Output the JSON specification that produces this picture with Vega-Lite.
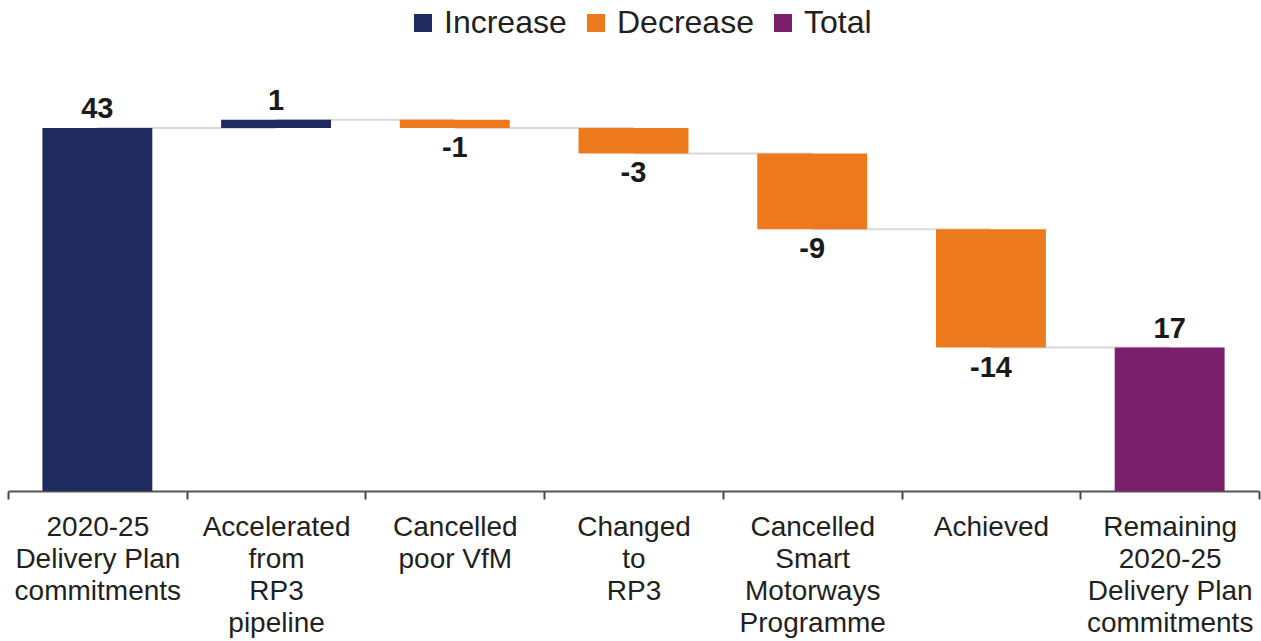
{
  "$schema": "https://vega.github.io/schema/vega-lite/v6.json",
  "width": 1251,
  "height": 422,
  "autosize": {"type": "none"},
  "padding": {"left": 8, "top": 69, "right": 2, "bottom": 150},
  "background": "white",
  "config": {
    "view": {"stroke": null},
    "font": "Liberation Sans"
  },
  "datasets": {
    "bars": [
      {"cat": "2020-25|Delivery Plan|commitments", "start": 0, "end": 43, "label": "43", "type": "Increase"},
      {"cat": "Accelerated|from|RP3|pipeline", "start": 43, "end": 44, "label": "1", "type": "Increase"},
      {"cat": "Cancelled|poor VfM", "start": 44, "end": 43, "label": "-1", "type": "Decrease"},
      {"cat": "Changed|to|RP3", "start": 43, "end": 40, "label": "-3", "type": "Decrease"},
      {"cat": "Cancelled|Smart|Motorways|Programme", "start": 40, "end": 31, "label": "-9", "type": "Decrease"},
      {"cat": "Achieved", "start": 31, "end": 17, "label": "-14", "type": "Decrease"},
      {"cat": "Remaining|2020-25|Delivery Plan|commitments", "start": 0, "end": 17, "label": "17", "type": "Total"}
    ],
    "connectors": [
      {"pair": 1, "cat": "2020-25|Delivery Plan|commitments", "level": 43},
      {"pair": 1, "cat": "Accelerated|from|RP3|pipeline", "level": 43},
      {"pair": 2, "cat": "Accelerated|from|RP3|pipeline", "level": 44},
      {"pair": 2, "cat": "Cancelled|poor VfM", "level": 44},
      {"pair": 3, "cat": "Cancelled|poor VfM", "level": 43},
      {"pair": 3, "cat": "Changed|to|RP3", "level": 43},
      {"pair": 4, "cat": "Changed|to|RP3", "level": 40},
      {"pair": 4, "cat": "Cancelled|Smart|Motorways|Programme", "level": 40},
      {"pair": 5, "cat": "Cancelled|Smart|Motorways|Programme", "level": 31},
      {"pair": 5, "cat": "Achieved", "level": 31},
      {"pair": 6, "cat": "Achieved", "level": 17},
      {"pair": 6, "cat": "Remaining|2020-25|Delivery Plan|commitments", "level": 17}
    ]
  },
  "layer": [
    {
      "data": {"name": "connectors"},
      "mark": {"type": "line", "color": "#d9d9d9", "strokeWidth": 2},
      "encoding": {
        "x": {
          "field": "cat",
          "type": "nominal",
          "sort": null,
          "scale": {
            "domain": ["2020-25|Delivery Plan|commitments", "Accelerated|from|RP3|pipeline", "Cancelled|poor VfM", "Changed|to|RP3", "Cancelled|Smart|Motorways|Programme", "Achieved", "Remaining|2020-25|Delivery Plan|commitments"],
            "paddingInner": 0,
            "paddingOuter": 0
          },
          "axis": {
            "title": null,
            "labelAngle": 0,
            "labelExpr": "split(datum.label, '|')",
            "labelFontSize": 28,
            "labelLineHeight": 32,
            "labelColor": "#231f20",
            "labelBaseline": "top",
            "labelPadding": 14,
            "labelLimit": 0,
            "tickBand": "extent",
            "tickSize": 8,
            "tickWidth": 2,
            "tickColor": "#444444",
            "domainColor": "#555555",
            "domainWidth": 2,
            "grid": false
          }
        },
        "y": {
          "field": "level",
          "type": "quantitative",
          "scale": {"domain": [0, 50], "nice": false},
          "axis": null
        },
        "detail": {"field": "pair", "type": "nominal"}
      }
    },
    {
      "data": {"name": "bars"},
      "mark": {"type": "bar", "width": {"band": 0.615}},
      "encoding": {
        "x": {"field": "cat", "type": "nominal", "sort": null},
        "y": {"field": "start", "type": "quantitative"},
        "y2": {"field": "end"},
        "color": {
          "field": "type",
          "type": "nominal",
          "scale": {
            "domain": ["Increase", "Decrease", "Total"],
            "range": ["#1f2b5f", "#ec7a1c", "#7b1f6d"]
          },
          "legend": {
            "title": null,
            "orient": "none",
            "direction": "horizontal",
            "legendX": 399,
            "legendY": -62,
            "symbolType": "square",
            "symbolSize": 324,
            "symbolStrokeWidth": 0,
            "labelFontSize": 32,
            "labelColor": "#231f20",
            "columnPadding": 13,
            "labelOffset": 5
          }
        }
      }
    },
    {
      "data": {"name": "bars"},
      "transform": [{"filter": "datum.type != 'Decrease'"}],
      "mark": {"type": "text", "baseline": "alphabetic", "dy": -10, "fontSize": 29, "fontWeight": "bold", "color": "#1a1a1a"},
      "encoding": {
        "x": {"field": "cat", "type": "nominal", "sort": null},
        "y": {"field": "end", "type": "quantitative"},
        "text": {"field": "label"}
      }
    },
    {
      "data": {"name": "bars"},
      "transform": [{"filter": "datum.type == 'Decrease'"}],
      "mark": {"type": "text", "baseline": "top", "dy": 6, "fontSize": 29, "fontWeight": "bold", "color": "#1a1a1a"},
      "encoding": {
        "x": {"field": "cat", "type": "nominal", "sort": null},
        "y": {"field": "end", "type": "quantitative"},
        "text": {"field": "label"}
      }
    }
  ]
}
